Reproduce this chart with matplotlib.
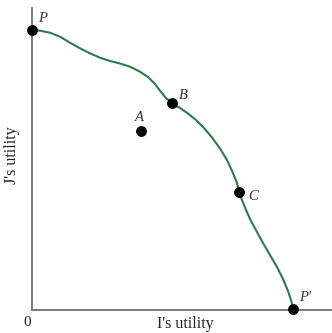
import matplotlib
matplotlib.use("Agg")
import matplotlib.pyplot as plt

# Utility possibility frontier (axes units)
frontier_x = [0, 8.5, 18.5, 28.5, 38.5, 48.5, 58.5, 68.5, 78.5, 88.5, 98.5, 108.5,
              116.5, 123.5, 129.5, 134.5, 140.8, 148.5, 156.5, 164.5, 172.5, 180.5,
              188.5, 195.5, 201.5, 205.5, 207.5, 210.5, 214.5, 219.5, 225.5, 231.5,
              238.5, 245.5, 251.5, 256.5, 259.5, 261.8]
frontier_y = [279.5, 278.8, 276.8, 272.8, 266.8, 261.2, 256.2, 251.8, 248.5, 246.0,
              242.8, 237.8, 232.5, 225.5, 217.5, 211.5, 206.2, 201.5, 196.0, 189.5,
              181.5, 172.0, 161.0, 149.5, 136.5, 126.5, 117.8, 109.5, 99.5, 88.5,
              77.5, 66.5, 54.5, 42.5, 30.5, 18.5, 9.5, 1.0]

point_names = ["P", "B", "A", "C", "P'"]
point_x = [0, 140.8, 109.2, 207.5, 261.8]
point_y = [279.5, 206.2, 178.8, 117.8, 1.0]
label_dx = [11, 11, -1, 14, 12]
label_dy = [12, 8, 13, -5, 11]

W, H = 332, 333
fig = plt.figure(figsize=(W / 100, H / 100), dpi=100)
x0, y0 = 31.5, 309.5
ax = fig.add_axes([x0 / W, (H - y0) / H, (W - x0) / W, (y0 - 8) / H])
ax.set_xlim(0, W - x0)
ax.set_ylim(0, y0 - 8)
for s in ["top", "right"]:
    ax.spines[s].set_visible(False)
for s in ["left", "bottom"]:
    ax.spines[s].set_color("#707070")
    ax.spines[s].set_linewidth(1.3)
ax.set_xticks([])
ax.set_yticks([])

ax.plot(frontier_x, frontier_y, color="#2d7a4c", lw=1.5, solid_joinstyle="round",
        clip_on=False, zorder=2)
ax.plot(point_x, point_y, "o", color="black", ms=6.8, clip_on=False, zorder=3)

serif = ["Liberation Serif", "DejaVu Serif"]
for n, x, y, dx, dy in zip(point_names, point_x, point_y, label_dx, label_dy):
    ax.text(x + dx, y + dy, n, fontsize=10.5, fontstyle="italic", family=serif,
            ha="center", va="center", color="#333333")

fig.text(27 / W, 1 - 322 / H, "0", fontsize=11, family=serif, ha="center", va="center",
         color="#222222")
fig.text(185 / W, 1 - 324 / H, "I's utility", fontsize=11.5, family=serif, ha="center",
         va="center", color="#222222")
fig.text(12 / W, 1 - 155 / H, "J's utility", fontsize=11.5, family=serif, ha="center",
         va="center", rotation=90, color="#222222")

fig.savefig("out.png", dpi=100)
